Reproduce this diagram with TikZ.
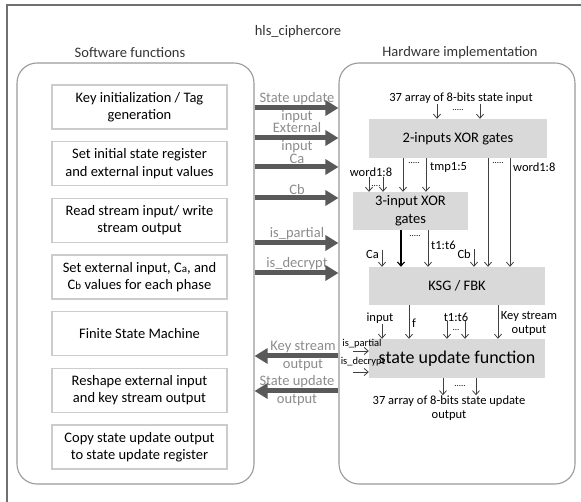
\documentclass[tikz,border=0pt]{standalone}
\usepackage{fontspec}
\setmainfont{Carlito}
\usepackage{tikz}
\usetikzlibrary{arrows.meta, positioning, calc}
\definecolor{framegray}{HTML}{707070}
\definecolor{groupgray}{HTML}{9A9A9A}
\definecolor{blockgray}{HTML}{D9D9D9}
\definecolor{busgray}{HTML}{595959}
\definecolor{lblgray}{HTML}{8C8C8C}
\tikzset{
	groupbox/.style={draw=groupgray, rounded corners=20pt, line width=1.1pt, inner sep=0pt},
	swbox/.style={draw=gray!40, fill=white, line width=1.5pt, minimum width=175pt, minimum height=44pt, align=center, inner sep=0pt, font=\fontsize{14.5}{17.5}\selectfont},
	hwbox/.style={fill=blockgray, align=center, inner sep=0pt, font=\fontsize{14.5}{17.5}\selectfont},
	headlbl/.style={font=\fontsize{14.5}{17}\selectfont, text=black!80, inner sep=0pt},
	buslbl/.style={text=lblgray, align=center, inner sep=0pt, font=\fontsize{14.5}{18}\selectfont},
	busarr/.style={draw=busgray, line width=5pt, -{Triangle[length=13pt,width=15pt]}},
	sigarr/.style={draw=black!75, line width=0.8pt, -{Straight Barb[length=4pt,width=7pt]}},
	siglbl/.style={font=\fontsize{12.5}{14.5}\selectfont, inner sep=0pt, align=center},
	dotlbl/.style={font=\fontsize{9}{9}\selectfont, inner sep=0pt},
}
\newcommand{\smallsub}[1]{{\fontsize{11}{11}\selectfont #1}}

\begin{document}
\begin{tikzpicture}[x=1pt, y=-1pt]
	\useasboundingbox (0,0) rectangle (581,502);
	\draw[framegray, line width=1.6pt] (7,502) -- (7,5) -- (581,5);

	\node[headlbl] (core) at (298,32) {hls\_ciphercore};
	\node[headlbl] (swtitle) at (130,53) {Software functions};
	\node[headlbl] (hwtitle) at (460,53) {Hardware implementation};

	\node[groupbox, minimum width=237pt, minimum height=421pt] (sw) at (135.5,273.5) {};
	\node[groupbox, minimum width=236pt, minimum height=421pt] (hw) at (457,273.5) {};

	% software side
	\node[swbox] (keyinit) at (139.5,107) {Key initialization / Tag\\generation};
	\node[swbox] (setinit) at (139.5,163.7) {Set initial state register\\and external input values};
	\node[swbox] (rdwr) at (139.5,220.3) {Read stream input/ write\\stream output};
	\node[swbox] (setext) at (139.5,277) {Set external input, C\smallsub{a}, and\\C\smallsub{b} values for each phase};
	\node[swbox] (fsm) at (139.5,333.7) {Finite State Machine};
	\node[swbox] (reshape) at (139.5,390.3) {Reshape external input\\and key stream output};
	\node[swbox] (copyout) at (139.5,447) {Copy state update output\\to state update register};

	% hardware side
	\node[hwbox, minimum width=178pt, minimum height=39pt] (xor2) at (458,138.5) {2-inputs XOR gates};
	\node[hwbox, minimum width=115pt, minimum height=38pt] (xor3) at (410.5,211) {3-input XOR\\gates};
	\node[hwbox, minimum width=176pt, minimum height=38pt] (ksg) at (457,286) {KSG / FBK};
	\node[hwbox, minimum width=176pt, minimum height=39pt, font=\fontsize{18}{20}\selectfont] (suf) at (457,358.5) {state update function};

	\node[siglbl] (stin) at (461,98) {37 array of 8-bits state input};
	\draw[sigarr] (437,0 |- stin.south) -- (437,0 |- xor2.north);
	\draw[sigarr] (480,0 |- stin.south) -- (480,0 |- xor2.north);
	\node[dotlbl] (stdots) at (458,110) {.....};

	\node[siglbl] (wrda) at (371,172) {word1:8};
	\draw[sigarr] (369,0 |- wrda.south) -- (369,0 |- xor3.north);
	\draw[sigarr] (383,0 |- wrda.south) -- (383,0 |- xor3.north);
	\node[dotlbl] (wrdadots) at (376,186) {....};

	\draw[sigarr] (403,0 |- xor2.south) -- (403,0 |- xor3.north);
	\draw[sigarr] (426,0 |- xor2.south) -- (426,0 |- xor3.north);
	\node[dotlbl] (tmpdots) at (414,163) {.....};
	\node[siglbl, anchor=west] (tmp) at (430,167) {tmp1:5};

	\draw[sigarr] (488,0 |- xor2.south) -- (488,0 |- ksg.north);
	\draw[sigarr] (510,0 |- xor2.south) -- (510,0 |- ksg.north);
	\node[dotlbl] (wrdbdots) at (498,163) {.....};
	\node[siglbl, anchor=west] (wrdb) at (513,167) {word1:8};

	\draw[sigarr, draw=black, line width=1.1pt] (401,0 |- xor3.south) -- (401,0 |- ksg.north);
	\draw[sigarr] (428,0 |- xor3.south) -- (428,0 |- ksg.north);
	\node[dotlbl] (tadots) at (415,236) {.....};
	\node[siglbl, anchor=west] (ta) at (431,245) {t1:t6};

	\node[siglbl, anchor=east] (ca) at (379,254) {Ca};
	\draw[sigarr] (382,0 |- ca.north) -- (382,0 |- ksg.north);
	\node[siglbl, anchor=east] (cb) at (471,254) {Cb};
	\draw[sigarr] (474,0 |- cb.north) -- (474,0 |- ksg.north);

	\node[siglbl] (inp) at (380,318) {input};
	\draw[sigarr] (382,0 |- inp.south) -- (382,0 |- suf.north);
	\draw[sigarr] (409,0 |- ksg.south) -- (409,0 |- suf.north);
	\node[siglbl, anchor=west] (fbk) at (412,323) {f};
	\node[siglbl] (tb) at (456,317) {t1:t6};
	\draw[sigarr] (447,0 |- tb.south) -- (447,0 |- suf.north);
	\draw[sigarr] (465,0 |- tb.south) -- (465,0 |- suf.north);
	\node[dotlbl] (tbdots) at (456,330) {...};
	\draw[sigarr] (498,0 |- ksg.south) -- (498,0 |- suf.north);
	\node[siglbl] (kso) at (529,323.5) {Key stream\\output};

	\node[siglbl, font=\fontsize{10.5}{12}\selectfont] (ispl) at (362,344) {is\_partial};
	\coordinate (isp) at (353,351);
	\draw[sigarr] (isp) -- (isp -| suf.west);
	\node[siglbl, font=\fontsize{10.5}{12}\selectfont] (isdc) at (363,362) {is\_decrypt};
	\coordinate (isd) at (353,372);
	\draw[sigarr] (isd) -- (isd -| suf.west);

	\node[siglbl] (stout) at (449,408) {37 array of 8-bits state update\\output};
	\draw[sigarr] (443,0 |- suf.south) -- (443,0 |- stout.north);
	\draw[sigarr] (476,0 |- suf.south) -- (476,0 |- stout.north);
	\node[dotlbl] (outdots) at (460,386) {.....};

	% buses between the two sides
	\coordinate (b1) at (297,108);
	\coordinate (b2) at (297,138);
	\coordinate (b3) at (297,167);
	\coordinate (b4) at (297,198);
	\coordinate (b5) at (297,243);
	\coordinate (b6) at (297,273);
	\coordinate (b7) at (297,356);
	\coordinate (b8) at (297,391);

	\node[buslbl] (sui) at (b1) {State update\\input};
	\node[buslbl] (exi) at (b2) {External\\input};
	\node[buslbl, above=3pt of b3] (cal) {Ca};
	\node[buslbl, above=3pt of b4] (cbl) {Cb};
	\node[buslbl, above=3pt of b5] (ipl) {is\_partial};
	\node[buslbl, above=3pt of b6] (idl) {is\_decrypt};
	\node[buslbl, xshift=6pt] (kol) at (b7) {Key stream\\output};
	\node[buslbl] (sol) at (b8) {State update\\output};

	\draw[busarr] (sw.east |- b1) -- (hw.west |- b1);
	\draw[busarr] (sw.east |- b2) -- (hw.west |- b2);
	\draw[busarr] (sw.east |- b3) -- (hw.west |- b3);
	\draw[busarr] (sw.east |- b4) -- (hw.west |- b4);
	\draw[busarr] (sw.east |- b5) -- (hw.west |- b5);
	\draw[busarr] (sw.east |- b6) -- (hw.west |- b6);
	\draw[busarr] (hw.west |- b7) -- (sw.east |- b7);
	\draw[busarr] (hw.west |- b8) -- (sw.east |- b8);
\end{tikzpicture}
\end{document}
